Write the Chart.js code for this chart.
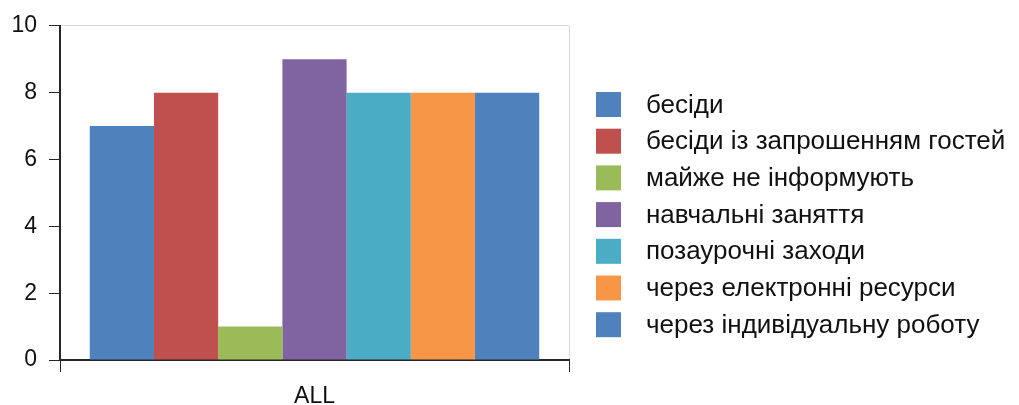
<!DOCTYPE html>
<html>
<head>
<meta charset="utf-8">
<script src="https://cdn.jsdelivr.net/npm/chart.js@4.4.1/dist/chart.umd.min.js"></script>
<style>
    html, body { margin: 0; padding: 0; background: #fff; }
    #wrap { width: 1019px; height: 405px; }
</style>
</head>
<body>
<div id="wrap"><canvas id="chart"></canvas></div>
<script>
const categories = ['ALL'];
const seriesNames = [
    'бесіди',
    'бесіди із запрошенням гостей',
    'майже не інформують',
    'навчальні заняття',
    'позаурочні заходи',
    'через електронні ресурси',
    'через індивідуальну роботу'
];
const seriesValues = [7, 8, 1, 9, 8, 8, 8];
const seriesColours = ['#4F81BD', '#C0504D', '#9BBB59', '#8064A2', '#4BACC6', '#F79646', '#4F81BD'];
const yTickLabels = ['0', '2', '4', '6', '8', '10'];

const fontFamily = "'Liberation Sans', Arial, sans-serif";
const textColour = '#111';
const axisColour = '#262626';
const borderGrey = '#d9d9d9';

// legend is drawn by hand so box size / text gap match the original
const sideLegend = {
    id: 'sideLegend',
    afterDraw(chart) {
        const ctx = chart.ctx;
        const left = chart.chartArea.right + 27;
        const top = 92;
        const step = 36.7;
        const box = 25;
        ctx.save();
        ctx.font = '26px ' + fontFamily;
        ctx.textBaseline = 'middle';
        chart.data.datasets.forEach((ds, i) => {
            const y = top + i * step;
            ctx.fillStyle = ds.backgroundColor;
            ctx.fillRect(left, y, box, box);
            ctx.fillStyle = textColour;
            ctx.fillText(ds.label, left + box + 25, y + box / 2 + 1);
        });
        ctx.restore();
    }
};

const datasets = seriesNames.map((name, i) => ({
    label: name,
    data: [seriesValues[i]],
    backgroundColor: seriesColours[i],
    borderWidth: 0,
    barPercentage: 1,
    categoryPercentage: 0.883
}));

const config = {
    type: 'bar',
    data: {
        labels: categories,
        datasets: datasets
    },
    options: {
        responsive: true,
        maintainAspectRatio: false,
        animation: false,
        layout: {
            padding: { left: 11, top: 12, right: 450, bottom: 0 }
        },
        plugins: {
            legend: { display: false },
            tooltip: { enabled: false }
        },
        scales: {
            x: {
                afterFit: (scale) => { scale.height = 45; },
                grid: {
                    // only the right-hand edge line is visible (grey box side)
                    color: (c) => c.type === 'tick' ? 'rgba(0,0,0,0)' : borderGrey,
                    tickColor: axisColour,
                    tickLength: 12,
                    lineWidth: 1
                },
                border: { color: axisColour, width: 2 },
                ticks: {
                    color: textColour,
                    padding: 11,
                    font: { family: fontFamily, size: 23 }
                }
            },
            y: {
                min: 0,
                max: 10,
                afterFit: (scale) => { scale.width = 49; },
                grid: {
                    color: (c) => c.tick && c.tick.value === 10 ? borderGrey : 'rgba(0,0,0,0)',
                    tickColor: axisColour,
                    tickLength: 11
                },
                border: { color: axisColour, width: 2 },
                ticks: {
                    stepSize: 2,
                    color: textColour,
                    padding: 12,
                    font: { family: fontFamily, size: 23 },
                    callback: function(value, index) {
                        return yTickLabels[index];
                    }
                }
            }
        }
    },
    plugins: [sideLegend]
};

const chart = new Chart(document.getElementById('chart'), config);
</script>
</body>
</html>
